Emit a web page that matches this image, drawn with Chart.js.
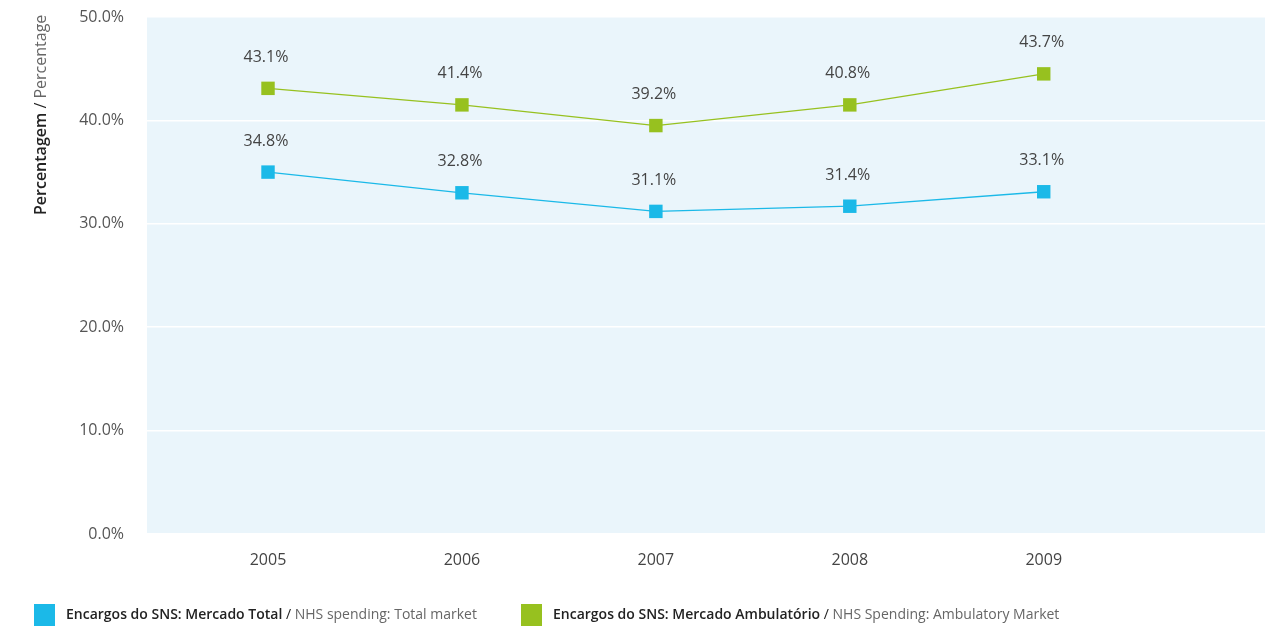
<!DOCTYPE html>
<html>
<head>
<meta charset="utf-8">
<script src="https://cdn.jsdelivr.net/npm/chart.js@4.4.0/dist/chart.umd.min.js"></script>
<style>
  html, body { margin: 0; padding: 0; background: #ffffff; overflow: hidden; }
  canvas { display: block; }
</style>
</head>
<body>
<canvas id="c" width="1265" height="626"></canvas>
<script>
// ---- data ----
const years = [2005, 2006, 2007, 2008, 2009];
const yTicks = [0, 10, 20, 30, 40, 50];
const totalMarket = [35.0, 33.0, 31.2, 31.7, 33.1];
const totalMarketLabels = ['34.8%', '32.8%', '31.1%', '31.4%', '33.1%'];
const ambulatoryMarket = [43.1, 41.5, 39.5, 41.5, 44.5];
const ambulatoryMarketLabels = ['43.1%', '41.4%', '39.2%', '40.8%', '43.7%'];
const seriesNames = [
  ['Encargos do SNS: Mercado Total', ' / ', 'NHS spending: Total market'],
  ['Encargos do SNS: Mercado Ambulatório', ' / ', 'NHS Spending: Ambulatory Market']
];
const axisTitle = ['Percentagem', ' / ', 'Percentage'];

const BLUE = '#1bb9e8';
const GREEN = '#97c11f';
const FONT = '"Open Sans", "DejaVu Sans", sans-serif';

const bgPlugin = {
  id: 'bg',
  beforeDraw(chart) {
    const a = chart.chartArea, ctx = chart.ctx;
    ctx.save();
    ctx.fillStyle = '#eaf5fb';
    ctx.fillRect(a.left, a.top, a.right - a.left, a.bottom - a.top);
    ctx.restore();
  }
};

const labelPlugin = {
  id: 'vlabels',
  afterDatasetsDraw(chart) {
    const ctx = chart.ctx;
    ctx.save();
    ctx.font = '16px ' + FONT;
    ctx.fillStyle = '#444444';
    ctx.textAlign = 'center';
    ctx.textBaseline = 'middle';
    chart.data.datasets.forEach((ds, i) => {
      const meta = chart.getDatasetMeta(i);
      meta.data.forEach((pt, j) => {
        ctx.fillText(ds.valueLabels[j], pt.x - 2, pt.y - 31);
      });
    });
    ctx.restore();
  }
};

function drawParts(ctx, x, y, parts, size) {
  ctx.font = '600 ' + size + 'px ' + FONT;
  ctx.fillStyle = '#222222';
  ctx.fillText(parts[0], x, y);
  x += ctx.measureText(parts[0]).width;
  ctx.font = '400 ' + size + 'px ' + FONT;
  ctx.fillStyle = '#222222';
  ctx.fillText(parts[1], x, y);
  x += ctx.measureText(parts[1]).width;
  ctx.fillStyle = '#666666';
  ctx.fillText(parts[2], x, y);
}

const legendPlugin = {
  id: 'customLegend',
  afterDraw(chart) {
    const ctx = chart.ctx;
    ctx.save();
    ctx.textAlign = 'left';
    ctx.textBaseline = 'middle';
    const colors = [BLUE, GREEN];
    const boxX = [34, 521];
    seriesNames.forEach((parts, i) => {
      ctx.fillStyle = colors[i];
      ctx.fillRect(boxX[i], 604, 21, 22);
      drawParts(ctx, boxX[i] + 32, 615, parts, 14);
    });
    // y-axis title
    ctx.translate(41, 215);
    ctx.rotate(-Math.PI / 2);
    drawParts(ctx, 0, 0, axisTitle, 16);
    ctx.restore();
  }
};

new Chart(document.getElementById('c'), {
  type: 'line',
  data: {
    datasets: [
      {
        label: seriesNames[1].join(''),
        data: years.map((y, i) => ({ x: y, y: ambulatoryMarket[i] })),
        valueLabels: ambulatoryMarketLabels,
        borderColor: GREEN,
        backgroundColor: GREEN,
        borderWidth: 1.3,
        pointStyle: 'rect',
        pointRadius: 9.5,
        pointBorderWidth: 0,
        tension: 0
      },
      {
        label: seriesNames[0].join(''),
        data: years.map((y, i) => ({ x: y, y: totalMarket[i] })),
        valueLabels: totalMarketLabels,
        borderColor: BLUE,
        backgroundColor: BLUE,
        borderWidth: 1.3,
        pointStyle: 'rect',
        pointRadius: 9.5,
        pointBorderWidth: 0,
        tension: 0
      }
    ]
  },
  options: {
    responsive: false,
    animation: false,
    layout: { autoPadding: false, padding: { top: 17, right: 0, left: 0, bottom: 0 } },
    plugins: { legend: { display: false }, tooltip: { enabled: false } },
    scales: {
      x: {
        type: 'linear',
        min: 2004.376,
        max: 2010.141,
        afterBuildTicks(scale) { scale.ticks = years.map(v => ({ value: v })); },
        afterFit(scale) {
          scale.height = 92;
          scale.paddingLeft = 0;
          scale.paddingRight = 0;
        },
        grid: { display: false, drawTicks: false },
        border: { display: false },
        ticks: {
          padding: 17,
          color: '#444444',
          font: { family: FONT, size: 16 },
          callback: v => String(v),
          maxRotation: 0
        }
      },
      y: {
        min: 0,
        max: 50,
        afterBuildTicks(scale) { scale.ticks = yTicks.map(v => ({ value: v })); },
        afterFit(scale) {
          scale.width = 147;
          scale.paddingTop = 0;
          scale.paddingBottom = 0;
        },
        grid: { color: '#ffffff', lineWidth: 1.5, drawTicks: false },
        border: { display: false },
        ticks: {
          padding: 23,
          color: '#555555',
          font: { family: FONT, size: 16 },
          callback: v => v.toFixed(1) + '%'
        }
      }
    }
  },
  plugins: [bgPlugin, labelPlugin, legendPlugin]
});
</script>
</body>
</html>
